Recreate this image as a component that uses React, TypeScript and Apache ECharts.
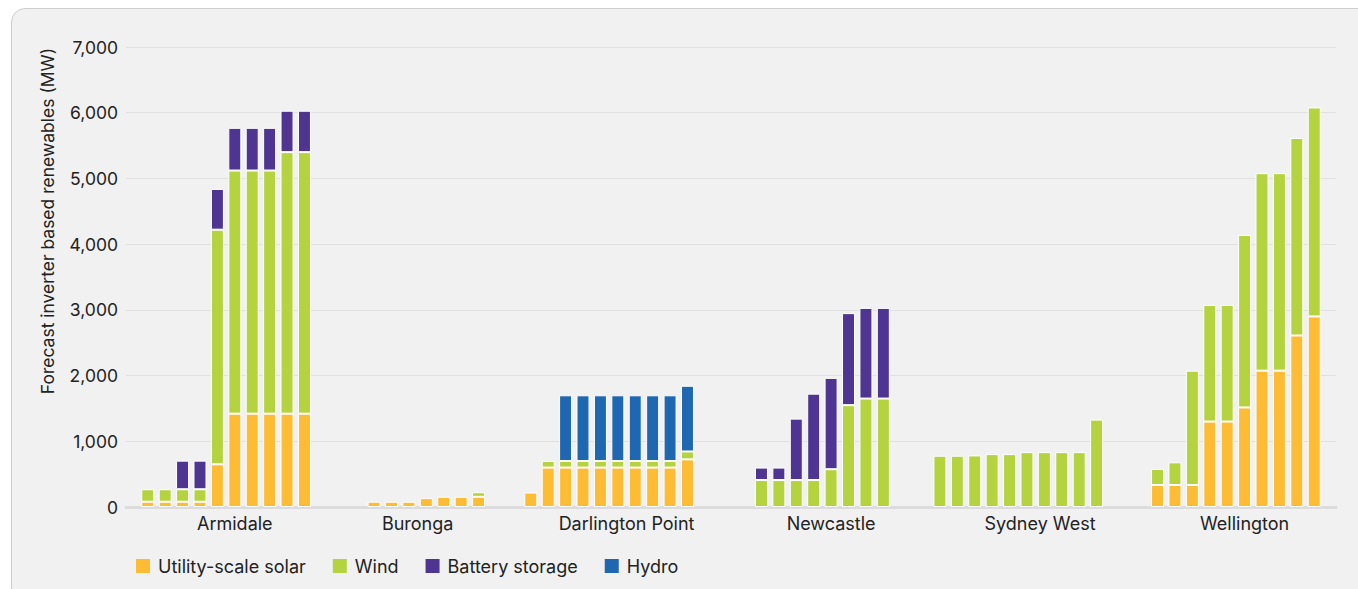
import React, { useEffect, useRef } from "react";
import * as echarts from "echarts";

// Regions (x-axis groups), each with ten forecast years
const regions = ["Armidale", "Buronga", "Darlington Point", "Newcastle", "Sydney West", "Wellington"];

// Layout of the x-axis: fine slots (quarter of a bar pitch); where each group starts and where its label sits
const slotCount = 279;
const barPitch = 4;
const groupStart = [5, 45, 93, 138, 187, 237];
const labelSlot = [25, 67, 115, 162, 210, 257];

// Values (MW), one row per region, ten years each
const solarMW = [
  [80, 80, 80, 80, 650, 1420, 1420, 1420, 1420, 1420],
  [0, 0, 0, 80, 80, 80, 135, 155, 155, 155],
  [220, 600, 600, 600, 600, 600, 600, 600, 600, 725],
  [0, 0, 0, 0, 0, 0, 0, 0, 0, 0],
  [0, 0, 0, 0, 0, 0, 0, 0, 0, 0],
  [335, 335, 335, 1300, 1300, 1515, 2075, 2075, 2610, 2900],
];
const windMW = [
  [190, 190, 190, 190, 3570, 3700, 3700, 3700, 3980, 3980],
  [0, 0, 0, 0, 0, 0, 0, 0, 0, 70],
  [0, 100, 100, 100, 100, 100, 100, 100, 100, 120],
  [0, 0, 410, 410, 410, 410, 575, 1550, 1650, 1650],
  [780, 780, 785, 805, 805, 835, 835, 835, 835, 1330],
  [245, 345, 1740, 1775, 1775, 2625, 3005, 3005, 3005, 3180],
];
const batteryMW = [
  [0, 0, 435, 435, 620, 650, 650, 650, 630, 630],
  [0, 0, 0, 0, 0, 0, 0, 0, 0, 0],
  [0, 0, 0, 0, 0, 0, 0, 0, 0, 0],
  [0, 0, 190, 190, 935, 1315, 1390, 1400, 1380, 1380],
  [0, 0, 0, 0, 0, 0, 0, 0, 0, 0],
  [0, 0, 0, 0, 0, 0, 0, 0, 0, 0],
];
const hydroMW = [
  [0, 0, 0, 0, 0, 0, 0, 0, 0, 0],
  [0, 0, 0, 0, 0, 0, 0, 0, 0, 0],
  [0, 0, 1000, 1000, 1000, 1000, 1000, 1000, 1000, 1000],
  [0, 0, 0, 0, 0, 0, 0, 0, 0, 0],
  [0, 0, 0, 0, 0, 0, 0, 0, 0, 0],
  [0, 0, 0, 0, 0, 0, 0, 0, 0, 0],
];

const seriesNames = ["Utility-scale solar", "Wind", "Battery storage", "Hydro"];
const seriesValues = [solarMW, windMW, batteryMW, hydroMW];
const seriesColors = ["#FDBC33", "#B4D33F", "#4E3592", "#1F67B1"];

const yMin = 0;
const yMax = 7000;
const yInterval = 1000;
const yAxisTitle = "Forecast inverter based renewables (MW)";

const slots = Array.from({ length: slotCount }, (_, i) => "s" + i);

function toSlotData(rows: number[][]) {
  const out: any[] = slots.map(() => "-");
  rows.forEach((row, g) => {
    row.forEach((v, i) => {
      out[groupStart[g] + i * barPitch] = v > 0 ? v : "-";
    });
  });
  return out;
}

const FONT = "Inter, 'Noto Sans', sans-serif";

export default function App() {
  const ref = useRef<HTMLDivElement>(null);

  useEffect(() => {
    if (!ref.current) return;
    const chart = echarts.init(ref.current, undefined, { renderer: "svg" });
    chart.setOption({
      animation: false,
      backgroundColor: "transparent",
      textStyle: { fontFamily: FONT },
      grid: { left: 126, right: 22, top: 47, bottom: 82, containLabel: false },
      legend: {
        left: 136,
        top: 557,
        padding: 0,
        itemWidth: 14,
        itemHeight: 14,
        itemGap: 27,
        icon: "rect",
        itemStyle: { borderWidth: 0 },
        textStyle: { fontSize: 18, color: "#222", fontFamily: FONT, padding: [0, 0, 0, 3] },
        data: seriesNames,
      },
      xAxis: {
        type: "category",
        data: slots,
        boundaryGap: false,
        axisLine: { show: true, lineStyle: { color: "#dcdcdc", width: 3 } },
        axisTick: { show: false },
        splitLine: { show: false },
        axisLabel: {
          interval: (index: number) => labelSlot.indexOf(index) >= 0,
          margin: 7,
          fontSize: 18,
          color: "#222",
          fontFamily: FONT,
          formatter: (_v: string, index: number) => {
            const idx = labelSlot.indexOf(index);
            return idx >= 0 ? regions[idx] : "";
          },
        },
      },
      yAxis: {
        type: "value",
        min: yMin,
        max: yMax,
        interval: yInterval,
        name: yAxisTitle,
        nameLocation: "middle",
        nameGap: 70,
        nameTextStyle: { fontSize: 17.5, color: "#222", fontFamily: FONT, padding: [0, 0, 0, 112] },
        axisLine: { show: false },
        axisTick: { show: false },
        splitLine: { lineStyle: { color: "#e0e0e0", width: 1 } },
        axisLabel: {
          margin: 8,
          fontSize: 17.5,
          color: "#222",
          fontFamily: FONT,
          formatter: (v: number) => v.toLocaleString("en-US"),
        },
      },
      series: seriesNames.map((name, k) => ({
        name,
        type: "bar",
        stack: "total",
        barWidth: 13,
        itemStyle: { color: seriesColors[k], borderColor: "#ffffff", borderWidth: 1 },
        data: toSlotData(seriesValues[k]),
      })),
    });
    return () => chart.dispose();
  }, []);

  return (
    <div style={{ position: "absolute", left: 0, top: 0, width: 1358, height: 589, overflow: "hidden", background: "#ffffff" }}>
      <div
        style={{
          position: "absolute",
          left: 11,
          top: 8,
          width: 1380,
          height: 594,
          boxSizing: "border-box",
          border: "1px solid #cdcdcd",
          borderRadius: 14,
          background: "#f1f1f1",
        }}
      />
      <div ref={ref} style={{ position: "absolute", left: 0, top: 0, width: 1358, height: 589 }} />
    </div>
  );
}
